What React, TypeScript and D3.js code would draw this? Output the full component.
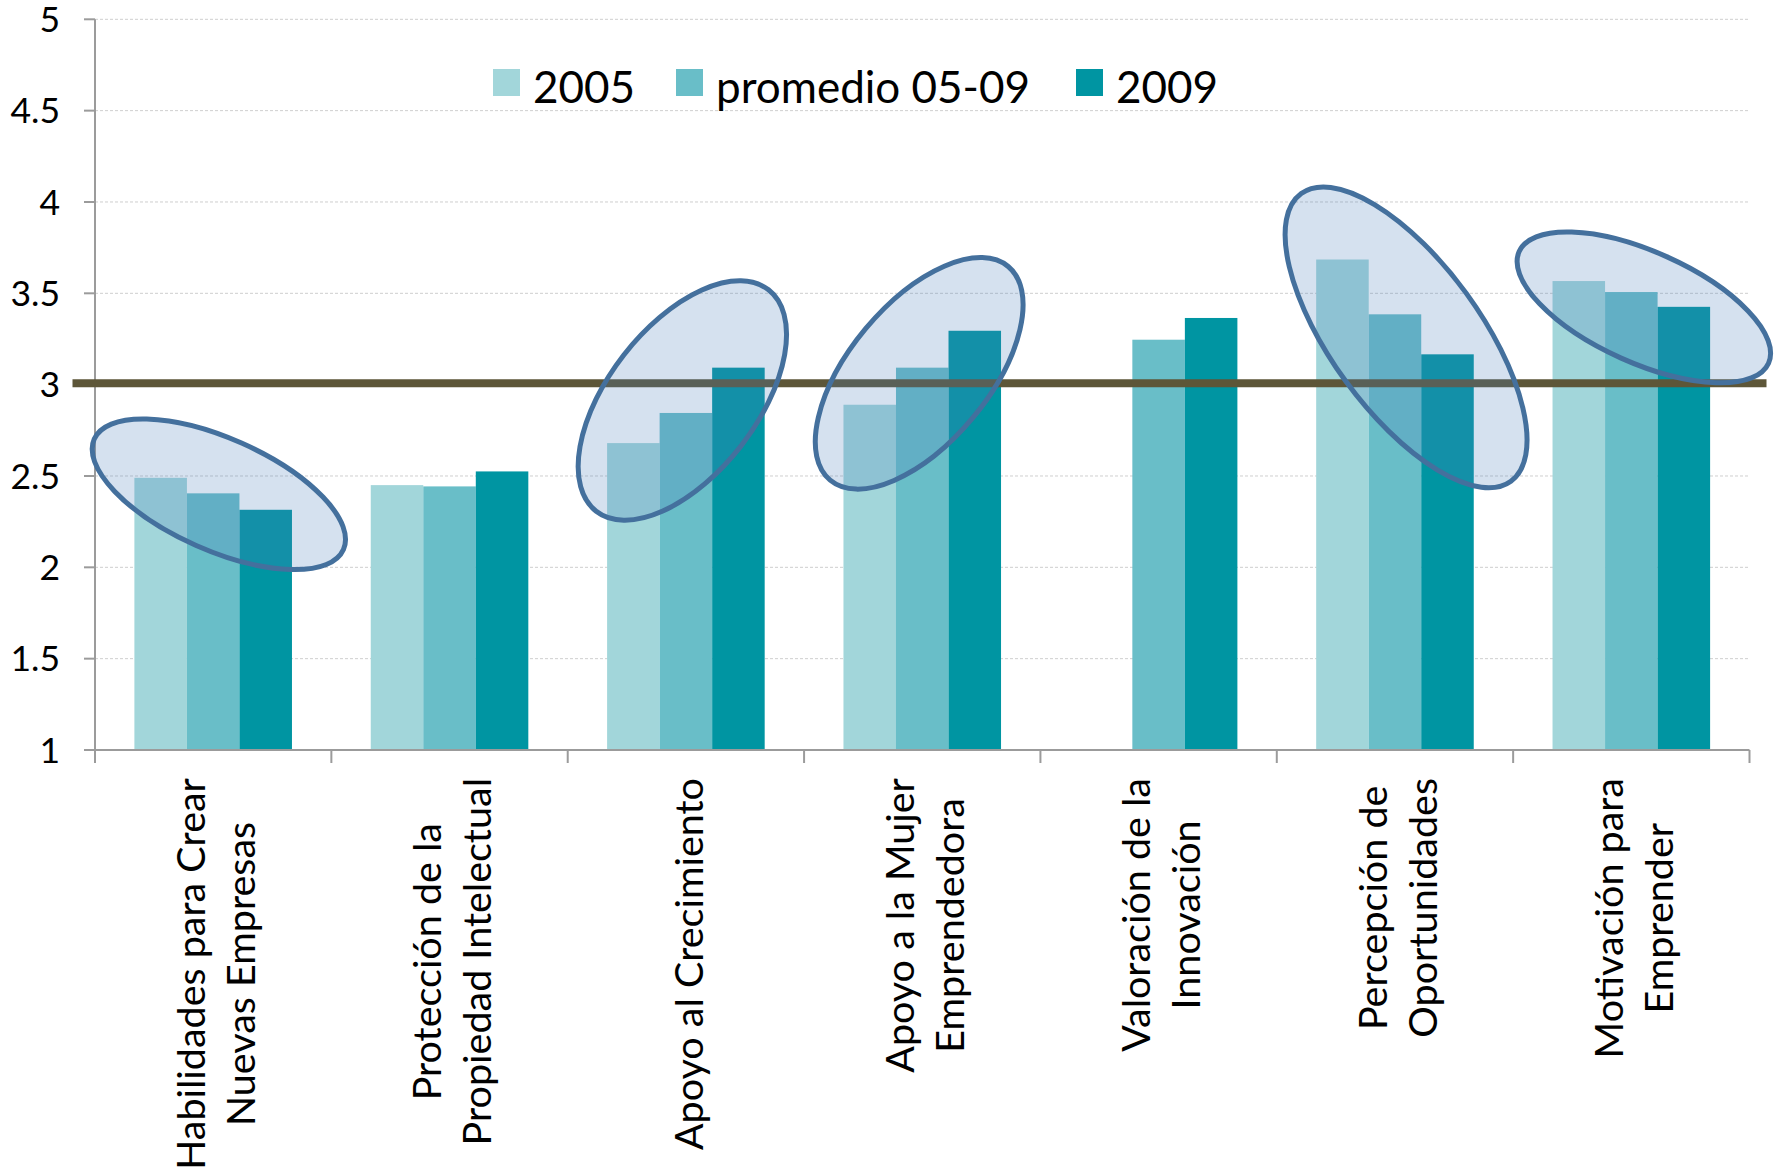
import React, { useEffect, useRef } from "react";
import * as d3 from "d3";

// ---------- data ----------
const categories: string[] = [
  "Habilidades para Crear\nNuevas Empresas",
  "Protección de la\nPropiedad Intelectual",
  "Apoyo al Crecimiento",
  "Apoyo a la Mujer\nEmprendedora",
  "Valoración de la\nInnovación",
  "Percepción de\nOportunidades",
  "Motivación para\nEmprender",
];
const seriesNames: string[] = ["2005", "promedio 05-09", "2009"];
const values2005: (number | null)[] = [2.49, 2.45, 2.68, 2.89, null, 3.685, 3.567];
const valuesPromedio: (number | null)[] = [2.405, 2.443, 2.845, 3.093, 3.246, 3.385, 3.507];
const values2009: (number | null)[] = [2.315, 2.525, 3.093, 3.295, 3.365, 3.166, 3.426];
const yTicks: number[] = [1, 1.5, 2, 2.5, 3, 3.5, 4, 4.5, 5];
const thresholdValue = 3;

// highlighted groups (category index, centre value, band offset, semi-axes in px, angle)
const highlightCategory: number[] = [0, 2, 3, 5, 6];
const highlightCenterValue: number[] = [2.4, 2.913, 3.062, 3.259, 3.423];
const highlightOffset: number[] = [0.024, -0.015, -0.013, 0.047, 0.053];
const highlightRx: number[] = [136.3, 140.3, 139.1, 178, 136.6];
const highlightRy: number[] = [56, 74.2, 69.7, 74.6, 55.6];
const highlightAngle: number[] = [23.9, -52.1, -50.2, 53.9, 24.1];

// ---------- style ----------
const W = 1779;
const H = 1172;
const colors = ["#A2D6DA", "#69BEC8", "#0095A2"];
const FONT = "Lato, 'Open Sans', 'DejaVu Sans', sans-serif";
const legendX = [493, 676, 1076];

export default function App() {
  const ref = useRef<SVGSVGElement | null>(null);

  useEffect(() => {
    document.body.style.margin = "0";
    const svg = d3.select(ref.current);
    svg.selectAll("*").remove();

    const left = 95;
    const right = 1749.5;
    const top = 19.3;
    const bottom = 750;

    const x = d3.scaleBand<number>().domain(d3.range(categories.length)).range([left, right]).paddingInner(0).paddingOuter(0);
    const x1 = d3.scaleBand<number>().domain(d3.range(seriesNames.length)).range([0, x.bandwidth()]).paddingInner(0).paddingOuter(0.75);
    const y = d3.scaleLinear().domain([1, 5]).range([bottom, top]);

    const series = [values2005, valuesPromedio, values2009];

    // gridlines
    svg.append("g")
      .selectAll("line")
      .data(yTicks.filter((t) => t !== 1))
      .join("line")
      .attr("x1", left)
      .attr("x2", right)
      .attr("y1", (d) => y(d))
      .attr("y2", (d) => y(d))
      .attr("stroke", "#CFCFCF")
      .attr("stroke-width", 1)
      .attr("stroke-dasharray", "3,2");

    // bars
    const g = svg.append("g");
    series.forEach((vals, si) => {
      g.append("g")
        .selectAll("rect")
        .data(vals.map((v, i) => ({ v, i })).filter((d) => d.v != null))
        .join("rect")
        .attr("x", (d) => (x(d.i) as number) + (x1(si) as number))
        .attr("width", x1.bandwidth())
        .attr("y", (d) => y(d.v as number))
        .attr("height", (d) => bottom - y(d.v as number))
        .attr("fill", colors[si]);
    });

    // axes
    const axisColor = "#9B9B9B";
    svg.append("line")
      .attr("x1", left).attr("x2", left)
      .attr("y1", top).attr("y2", bottom)
      .attr("stroke", axisColor).attr("stroke-width", 2);
    svg.append("line")
      .attr("x1", left - 11).attr("x2", right)
      .attr("y1", bottom).attr("y2", bottom)
      .attr("stroke", axisColor).attr("stroke-width", 2);
    svg.append("g")
      .selectAll("line")
      .data(yTicks)
      .join("line")
      .attr("x1", left - 11).attr("x2", left)
      .attr("y1", (d) => y(d)).attr("y2", (d) => y(d))
      .attr("stroke", axisColor).attr("stroke-width", 2);
    svg.append("g")
      .selectAll("line")
      .data(d3.range(categories.length + 1))
      .join("line")
      .attr("x1", (d) => left + d * x.step())
      .attr("x2", (d) => left + d * x.step())
      .attr("y1", bottom).attr("y2", bottom + 13)
      .attr("stroke", axisColor).attr("stroke-width", 2);

    // y tick labels
    svg.append("g")
      .selectAll("text")
      .data(yTicks)
      .join("text")
      .attr("x", 60)
      .attr("y", (d) => y(d))
      .attr("dy", "0.36em")
      .attr("text-anchor", "end")
      .attr("font-family", FONT)
      .attr("font-size", 35.5)
      .attr("fill", "#000")
      .text((d) => d3.format("~g")(d));

    // category labels
    const labG = svg.append("g");
    const lineH = 50;
    categories.forEach((c, i) => {
      const lines = c.split("\n");
      const cx = (x(i) as number) + x.bandwidth() / 2;
      const texts = lines.map((ln) =>
        labG.append("text")
          .attr("font-family", FONT)
          .attr("font-size", 39.5)
          .attr("text-anchor", "middle")
          .attr("fill", "#000")
          .text(ln)
      );
      const maxW = d3.max(texts.map((t) => (t.node() as SVGTextElement).getComputedTextLength())) || 0;
      const cy = bottom + 28 + maxW / 2;
      texts.forEach((t, li) => {
        const bx = cx + (li - (lines.length - 1) / 2) * lineH + 16.7;
        t.attr("transform", `translate(${bx},${cy}) rotate(-90)`);
      });
    });

    // threshold line
    svg.append("line")
      .attr("x1", left - 22.5)
      .attr("x2", right + 17)
      .attr("y1", y(thresholdValue) - 1.5)
      .attr("y2", y(thresholdValue) - 1.5)
      .attr("stroke", "#5D5638")
      .attr("stroke-width", 8);

    // highlight ellipses
    svg.append("g")
      .selectAll("ellipse")
      .data(highlightCategory.map((ci, k) => ({ ci, k })))
      .join("ellipse")
      .attr("cx", 0)
      .attr("cy", 0)
      .attr("rx", (d) => highlightRx[d.k])
      .attr("ry", (d) => highlightRy[d.k])
      .attr("transform", (d) => {
        const cx = (x(d.ci) as number) + x.bandwidth() * (0.5 + highlightOffset[d.k]);
        const cy = y(highlightCenterValue[d.k]);
        return `translate(${cx},${cy}) rotate(${highlightAngle[d.k]})`;
      })
      .attr("fill", "rgba(79,129,189,0.24)")
      .attr("stroke", "#44709D")
      .attr("stroke-width", 5);

    // legend
    const leg = svg.append("g");
    seriesNames.forEach((s, si) => {
      const lx = legendX[si];
      leg.append("rect")
        .attr("x", lx).attr("y", 69)
        .attr("width", 27).attr("height", 27)
        .attr("fill", colors[si]);
      leg.append("text")
        .attr("x", lx + 40)
        .attr("y", 102.7)
        .attr("font-family", FONT)
        .attr("font-size", 44)
        .attr("fill", "#000")
        .text(s);
    });
  }, []);

  return <svg ref={ref} width={W} height={H} style={{ display: "block", background: "#fff" }} />;
}
